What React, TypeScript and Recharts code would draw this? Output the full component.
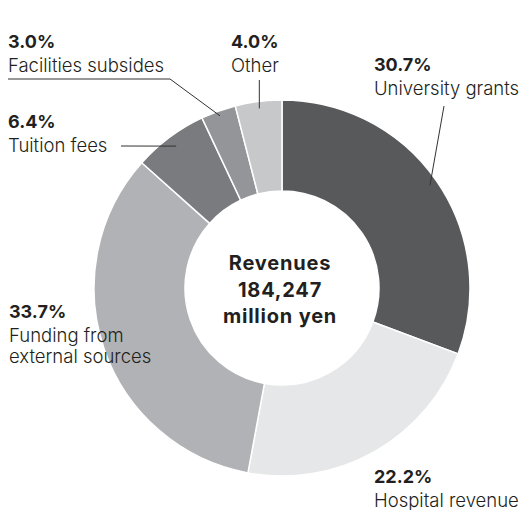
import React from 'react';
import { PieChart, Pie, Cell } from 'recharts';

const SEGMENTS = [
  'University grants',
  'Hospital revenue',
  'Funding from external sources',
  'Tuition fees',
  'Facilities subsides',
  'Other',
];
const SHARES = [30.7, 22.2, 33.7, 6.4, 3.0, 4.0];
const COLORS = ['#58595b', '#e6e7e8', '#b1b2b5', '#7a7b7e', '#939598', '#c7c8ca'];
const NAME_LINES = [
  ['University grants'],
  ['Hospital revenue'],
  ['Funding from', 'external sources'],
  ['Tuition fees'],
  ['Facilities subsides'],
  ['Other'],
];
const CENTER_LINES = ['Revenues', '184,247', 'million yen'];

// label placement, per slice index
const LABEL_POS: { x: number; y: number; leader?: { pts: number[][]; r: number; vertical?: boolean } }[] = [
  { x: 374, y: 71, leader: { pts: [[444, 106]], r: 180 } },
  { x: 374, y: 483 },
  { x: 9, y: 318 },
  { x: 8, y: 128, leader: { pts: [[121, 146]], r: 177 } },
  { x: 8, y: 48, leader: { pts: [[8, 79], [170, 79]], r: 183 } },
  { x: 231, y: 48, leader: { pts: [], r: 181, vertical: true } },
];

const TEXT = '#231f20';
const FONT = 'Inter, "Noto Sans", sans-serif';
const RAD = Math.PI / 180;

const data = SEGMENTS.map((name, i) => ({ name, value: SHARES[i] }));

const renderLabel = (props: any) => {
  const { cx, cy, midAngle, index } = props;
  const pos = LABEL_POS[index];
  const lines = NAME_LINES[index];
  let leader = null;
  if (pos.leader) {
    const ax = cx + pos.leader.r * Math.cos(-midAngle * RAD);
    const ay = cy + pos.leader.r * Math.sin(-midAngle * RAD);
    const pts = pos.leader.vertical ? [[ax, 80]] : pos.leader.pts;
    const all = [...pts, [ax, ay]];
    leader = (
      <polyline
        points={all.map((p) => p.join(',')).join(' ')}
        fill="none"
        stroke="#333"
        strokeWidth={1}
      />
    );
  }
  return (
    <g key={`lbl-${index}`}>
      {leader}
      <text x={pos.x} y={pos.y} fill={TEXT} fontFamily={FONT} fontSize={18} fontWeight={700}>
        {SHARES[index].toFixed(1)}%
      </text>
      {lines.map((ln, j) => (
        <text
          key={j}
          x={pos.x}
          y={pos.y + 24 + j * 21}
          fill={TEXT}
          fontFamily={FONT}
          fontSize={18.5}
          fontWeight={300}
        >
          {ln}
        </text>
      ))}
      {index === 0 &&
        CENTER_LINES.map((ln, i) => (
          <text
            key={`c-${i}`}
            x={cx - 2}
            y={cy - 18 + i * 26.5}
            textAnchor="middle"
            fill={TEXT}
            fontFamily={FONT}
            fontSize={20}
            fontWeight={700}
            letterSpacing={0.8}
          >
            {ln}
          </text>
        ))}
    </g>
  );
};

const App: React.FC = () => {
  return (
    <div style={{ position: 'absolute', left: 0, top: 0, width: 524, height: 510, background: '#fff' }}>
      <PieChart width={524} height={510} margin={{ top: 0, right: 0, bottom: 0, left: 0 }}>
        <Pie
          data={data}
          dataKey="value"
          nameKey="name"
          cx={282}
          cy={288}
          innerRadius={97}
          outerRadius={188}
          startAngle={90}
          endAngle={-270}
          stroke="#fff"
          strokeWidth={1.5}
          label={renderLabel}
          labelLine={false}
          isAnimationActive={false}
        >
          {data.map((entry, index) => (
            <Cell key={`cell-${index}`} fill={COLORS[index]} />
          ))}
        </Pie>
      </PieChart>
    </div>
  );
};

export default App;
